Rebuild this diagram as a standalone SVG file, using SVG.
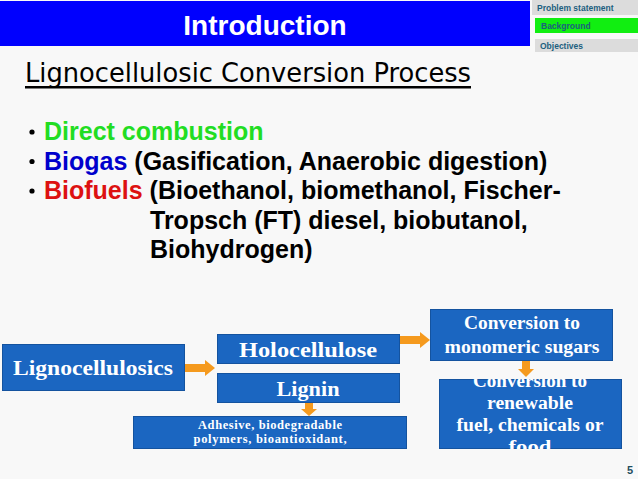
<svg xmlns="http://www.w3.org/2000/svg" width="638" height="479" viewBox="0 0 638 479">
<defs>
<style>
.nav{font-family:"Liberation Sans",Arial,sans-serif;font-weight:bold;font-size:8.5px;fill:#1d5f7f}
.bul{font-family:"Liberation Sans",Arial,sans-serif;font-weight:bold;font-size:25px;fill:#000}
.dot{fill:#000}
.box{fill:#1b66c1;stroke:#14539f;stroke-width:1}
.bt{font-family:"Liberation Serif","Times New Roman",serif;font-weight:bold;fill:#fff;text-anchor:middle}
.arr{fill:#f59a1e}
</style>
<clipPath id="clipR"><rect x="439" y="379" width="183" height="70"/></clipPath>
</defs>
<rect x="0" y="0" width="638" height="479" fill="#f8f8f8"/>
<g id="title">
<rect x="0" y="1" width="530" height="45" fill="#0000fe"/>
<text x="265" y="35" font-family="Liberation Sans,Arial,sans-serif" font-weight="bold" font-size="28" fill="#fff" text-anchor="middle">Introduction</text>
</g>
<g id="nav">
<rect x="532" y="0" width="106" height="15" fill="#dcdcdc"/>
<text class="nav" x="537" y="11">Problem statement</text>
<rect x="535" y="18" width="103" height="15" fill="#11ee11"/>
<text class="nav" x="541" y="29">Background</text>
<rect x="535" y="39" width="103" height="13" fill="#dcdcdc"/>
<text class="nav" x="540" y="49">Objectives</text>
</g>
<g id="subtitle">
<text x="25" y="82" font-family="DejaVu Sans,sans-serif" font-size="26" fill="#000" textLength="446" lengthAdjust="spacingAndGlyphs">Lignocellulosic Conversion Process</text>
<rect x="25" y="86" width="446" height="2.5" fill="#000"/>
</g>
<g id="bullets">
<circle class="dot" cx="32" cy="132" r="2.6"/>
<text class="bul" x="44" y="140" style="fill:#22dd22">Direct combustion</text>
<circle class="dot" cx="32" cy="161.5" r="2.6"/>
<text class="bul" x="44" y="170"><tspan style="fill:#0000cc">Biogas</tspan> (Gasification, Anaerobic digestion)</text>
<circle class="dot" cx="32" cy="191" r="2.6"/>
<text class="bul" x="44" y="199"><tspan style="fill:#dd1111">Biofuels</tspan> (Bioethanol, biomethanol, Fischer-</text>
<text class="bul" x="150" y="229">Tropsch (FT) diesel, biobutanol,</text>
<text class="bul" x="150" y="258">Biohydrogen)</text>
</g>
<g id="connectors">
<polygon class="arr" points="184,364 205,364 205,360 215,368 205,376 205,372 184,372"/>
<polygon class="arr" points="400,336 420,336 420,332 430,340 420,348 420,344 400,344"/>
<polygon class="arr" points="305,403 313,403 313,409 317,409 309,416 301,409 305,409"/>
<polygon class="arr" points="522,361 530,361 530,369 534,369 526,377 518,369 522,369"/>
</g>
<g id="n-ligno">
<rect class="box" x="2.5" y="344.5" width="182" height="46"/>
<text class="bt" x="93" y="375" font-size="22" textLength="160" lengthAdjust="spacingAndGlyphs">Lignocellulosics</text>
</g>
<g id="n-holo">
<rect class="box" x="217.5" y="334.5" width="182" height="29"/>
<text class="bt" x="308" y="357" font-size="22" textLength="138" lengthAdjust="spacingAndGlyphs">Holocellulose</text>
</g>
<g id="n-lignin">
<rect class="box" x="217.5" y="373.5" width="182" height="29"/>
<text class="bt" x="308" y="396" font-size="22" textLength="63" lengthAdjust="spacingAndGlyphs">Lignin</text>
</g>
<g id="n-adhesive">
<rect class="box" x="133.5" y="416.5" width="273" height="32"/>
<text class="bt" x="270" y="429" font-size="12.5" textLength="144">Adhesive, biodegradable</text>
<text class="bt" x="270" y="443" font-size="12.5" textLength="153">polymers, bioantioxidant,</text>
</g>
<g id="n-sugars">
<rect class="box" x="430.5" y="309.5" width="182" height="51"/>
<text class="bt" x="522" y="329" font-size="18" textLength="116" lengthAdjust="spacingAndGlyphs">Conversion to</text>
<text class="bt" x="522" y="353" font-size="18" textLength="155" lengthAdjust="spacingAndGlyphs">monomeric sugars</text>
</g>
<g id="n-renewable">
<rect class="box" x="439.5" y="379.5" width="182" height="69"/>
<g clip-path="url(#clipR)">
<text class="bt" x="530" y="387" font-size="18" textLength="114" lengthAdjust="spacingAndGlyphs">Conversion to</text>
<text class="bt" x="530" y="409" font-size="18" textLength="86" lengthAdjust="spacingAndGlyphs">renewable</text>
<text class="bt" x="530" y="431" font-size="18" textLength="147" lengthAdjust="spacingAndGlyphs">fuel, chemicals or</text>
<text class="bt" x="530" y="453" font-size="18" textLength="43" lengthAdjust="spacingAndGlyphs">food</text>
</g>
</g>
<text x="630" y="474" font-family="Liberation Sans,Arial,sans-serif" font-weight="bold" font-size="11" fill="#1f4e5f" text-anchor="middle">5</text>
</svg>
